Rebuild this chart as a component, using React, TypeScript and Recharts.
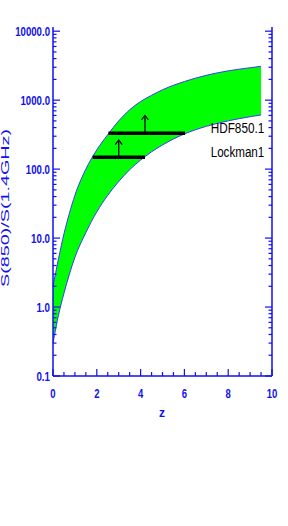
import React from "react"
import {
  ComposedChart,
  Area,
  XAxis,
  YAxis,
  ReferenceLine,
  ReferenceDot,
} from "recharts"

// redshift grid and the band edges S(850)/S(1.4GHz)
const zValues = [0, 0.25, 0.5, 0.75, 1, 1.5, 2, 2.5, 3, 3.5, 4, 4.5, 5, 6, 7, 8, 9, 9.5]
const lowerRatio = [0.3, 0.76, 1.58, 3.0, 5.25, 12, 24, 41.7, 66, 98, 135, 178, 224, 324, 417, 501, 575, 610]
const upperRatio = [2.0, 5.0, 11.5, 22.9, 41.7, 100, 190, 316, 501, 724, 955, 1175, 1413, 1862, 2291, 2661, 2951, 3090]

// lower limits for the two sources
const sourceNames = ["HDF850.1", "Lockman1"]
const barZStart = [2.53, 1.81]
const barZEnd = [6.03, 4.2]
const barLevel = [330, 148]
const arrowZ = [4.2, 3.0]
const arrowTip = [600, 264]
const nameZ = [7.2, 7.2]
const nameLevel = [393, 178]

const xTicks = [0, 0.5, 1, 1.5, 2, 2.5, 3, 3.5, 4, 4.5, 5, 5.5, 6, 6.5, 7, 7.5, 8, 8.5, 9, 9.5, 10]
const xMajor = [0, 2, 4, 6, 8, 10]
const yDecades = [0.1, 1, 10, 100, 1000, 10000]
const yTicks = [
  ...yDecades,
  ...yDecades.slice(0, -1).flatMap(d => [2, 3, 4, 5, 6, 7, 8, 9].map(k => +(k * d).toPrecision(3))),
]

const data = zValues.map((z, i) => ({ z, band: [lowerRatio[i], upperRatio[i]] }))

const BLUE = "#1010f0"
const FONT = "'Liberation Sans', Arial, sans-serif"

const isDecade = (v: number) => Math.abs(Math.log10(v) - Math.round(Math.log10(v))) < 1e-6

// narrow IDL-style digits: squeeze labels to the widths seen in the plot
const labelWidth = (s: string) =>
  s.split("").reduce((w, c) => w + (c === "." ? 3 : 5.3), 0)

const BottomTick = (props: any) => {
  const { x, y, payload } = props
  const major = xMajor.includes(payload.value)
  const s = String(payload.value)
  return (
    <g>
      <line x1={x} y1={y} x2={x} y2={y - (major ? 7 : 4)} stroke={BLUE} strokeWidth={1.2} />
      {major && (
        <text x={x} y={y + 17} textAnchor="middle" dominantBaseline="central"
          fill={BLUE} fontFamily={FONT} fontWeight="bold" fontSize={13}
          textLength={labelWidth(s)} lengthAdjust="spacingAndGlyphs">
          {s}
        </text>
      )}
    </g>
  )
}

const TopTick = (props: any) => {
  const { x, y, payload } = props
  const major = xMajor.includes(payload.value)
  return <line x1={x} y1={y} x2={x} y2={y + (major ? 7 : 4)} stroke={BLUE} strokeWidth={1.2} />
}

const LeftTick = (props: any) => {
  const { x, y, payload } = props
  const major = isDecade(payload.value)
  const s = payload.value.toFixed(1)
  return (
    <g>
      <line x1={x} y1={y} x2={x + (major ? 7 : 3.5)} y2={y} stroke={BLUE} strokeWidth={1.2} />
      {major && (
        <text x={x - 3} y={y} textAnchor="end" dominantBaseline="central"
          fill={BLUE} fontFamily={FONT} fontWeight="bold" fontSize={13}
          textLength={labelWidth(s)} lengthAdjust="spacingAndGlyphs">
          {s}
        </text>
      )}
    </g>
  )
}

const RightTick = (props: any) => {
  const { x, y, payload } = props
  const major = isDecade(payload.value)
  return <line x1={x} y1={y} x2={x - (major ? 7 : 3.5)} y2={y} stroke={BLUE} strokeWidth={1.2} />
}

const ArrowHead = (props: any) => {
  const { cx, cy } = props
  return (
    <path d={`M${cx - 3.5},${cy + 4.5} L${cx},${cy} L${cx + 3.5},${cy + 4.5}`}
      fill="none" stroke="#000" strokeWidth={1.2} />
  )
}

const nameShape = (name: string) => (props: any) => (
  <text x={props.cx} y={props.cy} dominantBaseline="central" fill="#000"
    fontFamily={FONT} fontSize={14} textLength={name.length * 6.7}
    lengthAdjust="spacingAndGlyphs">
    {name}
  </text>
)

export default function App() {
  return (
    <div style={{ position: "absolute", left: 0, top: 0, background: "#fff" }}>
      <ComposedChart width={288} height={526} data={data}
        margin={{ top: 27, right: 0, left: 0, bottom: 0 }}>
        <XAxis xAxisId="bottom" dataKey="z" type="number" domain={[0, 10]} ticks={xTicks}
          interval={0} height={150} tickSize={0} tickMargin={0} tickLine={false}
          axisLine={{ stroke: BLUE, strokeWidth: 1.5 }} tick={<BottomTick />}
          label={{
            content: () => (
              <text x={162} y={413} textAnchor="middle" dominantBaseline="central"
                fill={BLUE} fontFamily={FONT} fontWeight="bold" fontSize={12}>z</text>
            ),
          }} />
        <XAxis xAxisId="top" orientation="top" dataKey="z" type="number" domain={[0, 10]}
          ticks={xTicks} interval={0} height={0} tickSize={0} tickMargin={0} tickLine={false}
          axisLine={{ stroke: BLUE, strokeWidth: 1.5 }} tick={<TopTick />} />
        <YAxis yAxisId="left" scale="log" domain={[0.1, 11500]} allowDataOverflow type="number"
          ticks={yTicks} interval={0} width={53} tickSize={0} tickMargin={0} tickLine={false}
          axisLine={{ stroke: BLUE, strokeWidth: 1.5 }} tick={<LeftTick />}
          label={{
            content: () => (
              <text x={5} y={208} transform="rotate(-90 5 208)" textAnchor="middle"
                dominantBaseline="central" fill={BLUE} fontFamily="Arial, sans-serif"
                fontSize={11} textLength={158} lengthAdjust="spacingAndGlyphs">
                S(850)/S(1.4GHz)
              </text>
            ),
          }} />
        <YAxis yAxisId="right" orientation="right" scale="log" domain={[0.1, 11500]}
          allowDataOverflow type="number" ticks={yTicks} interval={0} width={16}
          tickSize={0} tickMargin={0} tickLine={false}
          axisLine={{ stroke: BLUE, strokeWidth: 1.5 }} tick={<RightTick />} />

        <Area xAxisId="bottom" yAxisId="left" dataKey="band" type="monotone"
          fill="#00ff00" fillOpacity={1} stroke="#3a3aff" strokeWidth={1}
          isAnimationActive={false} />

        {sourceNames.map((name, i) => (
          <ReferenceLine key={`bar-${name}`} xAxisId="bottom" yAxisId="left"
            segment={[{ x: barZStart[i], y: barLevel[i] }, { x: barZEnd[i], y: barLevel[i] }]}
            stroke="#000" strokeWidth={3.5} />
        ))}
        {sourceNames.map((name, i) => (
          <ReferenceLine key={`arrow-${name}`} xAxisId="bottom" yAxisId="left"
            segment={[{ x: arrowZ[i], y: barLevel[i] }, { x: arrowZ[i], y: arrowTip[i] }]}
            stroke="#000" strokeWidth={1.3} />
        ))}
        {sourceNames.map((name, i) => (
          <ReferenceDot key={`head-${name}`} xAxisId="bottom" yAxisId="left"
            x={arrowZ[i]} y={arrowTip[i]} r={3} shape={ArrowHead} />
        ))}
        {sourceNames.map((name, i) => (
          <ReferenceDot key={`name-${name}`} xAxisId="bottom" yAxisId="left"
            x={nameZ[i]} y={nameLevel[i]} r={1} shape={nameShape(name)} />
        ))}
      </ComposedChart>
    </div>
  )
}
